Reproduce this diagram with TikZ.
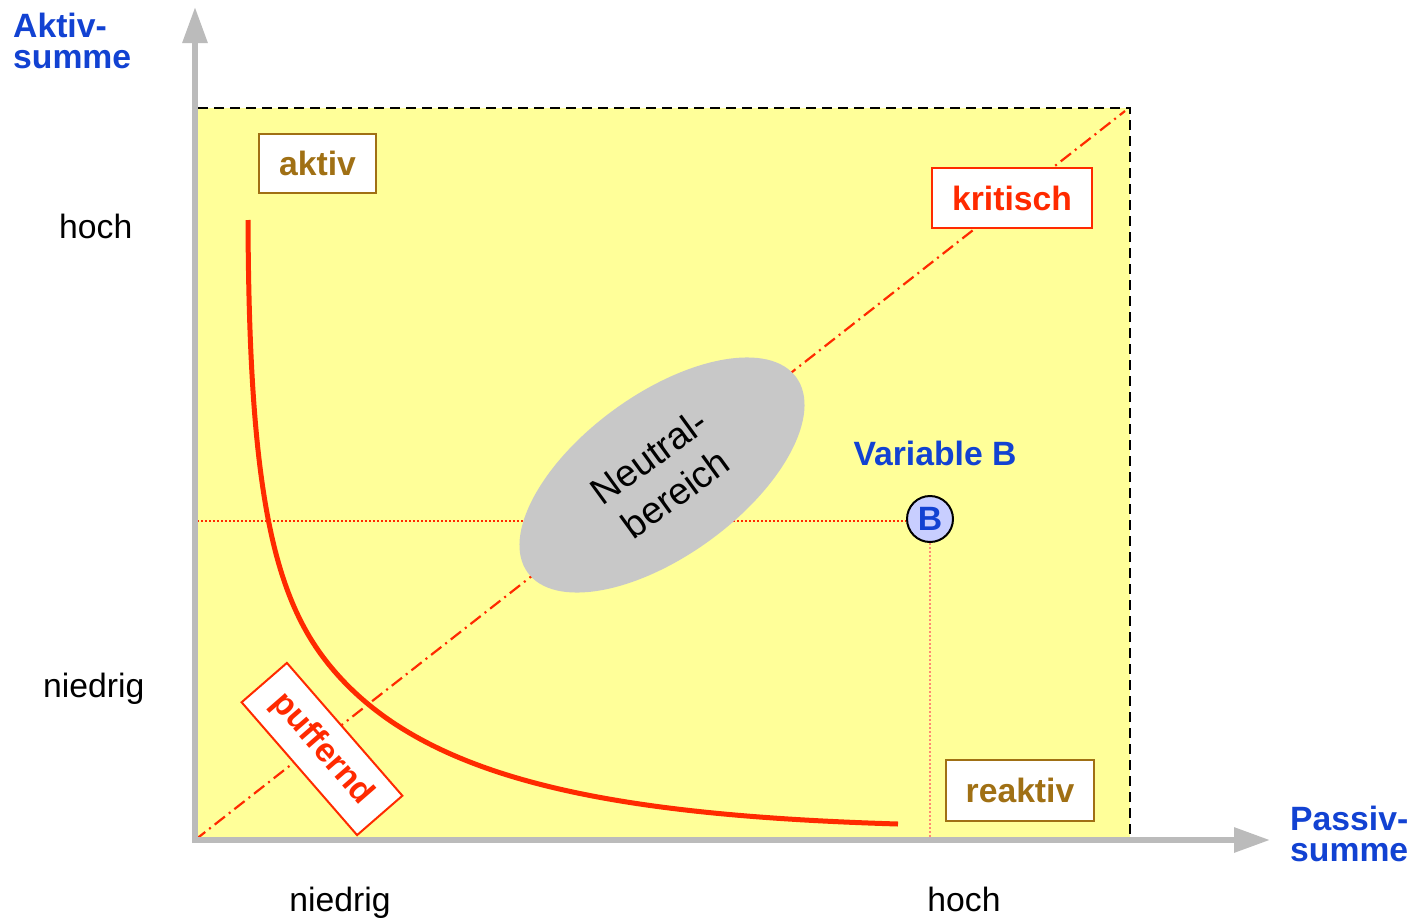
\documentclass[tikz,border=0pt]{standalone}
\usepackage{fontspec}
\setmainfont{Liberation Sans}
\usetikzlibrary{arrows.meta,shapes.geometric}
\definecolor{zyellow}{RGB}{255,255,153}
\definecolor{zgray}{RGB}{187,187,187}
\definecolor{zell}{RGB}{200,200,200}
\definecolor{zblue}{RGB}{18,66,210}
\definecolor{zbrown}{RGB}{160,112,20}
\definecolor{zred}{RGB}{255,42,0}
\definecolor{zbfill}{RGB}{200,206,255}
\newcommand\myfs{\fontsize{33.7}{31}\selectfont}
\begin{document}
\begin{tikzpicture}[x=1pt,y=-1pt,
  axisline/.style={draw=zgray, line width=6pt, -{Triangle[length=36pt,width=24pt]}},
  lab/.style={font=\myfs, inner sep=0pt, text=black},
  bluelab/.style={font=\myfs\bfseries, inner sep=0pt, text=zblue, align=left},
  tagbox/.style={draw, fill=white, line width=2pt, font=\myfs\bfseries, inner sep=0pt},
  browntag/.style={tagbox, draw=zbrown, text=zbrown},
  redtag/.style={tagbox, draw=zred, text=zred},
  borderline/.style={draw=black, line width=2pt, dash pattern=on 10pt off 6pt},
  dashdotline/.style={draw=zred, line width=2.2pt, dash pattern=on 13pt off 5pt on 2pt off 5pt},
  dotline/.style={draw=zred, line width=2pt, dash pattern=on 2pt off 2pt},
  vdotline/.style={draw=zred!55, line width=1.6pt, dash pattern=on 2pt off 2pt},
  curveline/.style={draw=zred, line width=5pt}
]
\useasboundingbox (0,0) rectangle (1416,918);
% region
\fill[zyellow] (198,108) rectangle (1130,840);
\coordinate (rtl) at (198,108);
\coordinate (rtr) at (1130,108);
\coordinate (rbr) at (1130,840);
\draw[borderline] (rtl) -- (rtr) -- (rbr);
% diagonal
\coordinate (O) at (195,840);
\coordinate (D) at (1125,111);
\draw[dashdotline] (O) -- (D);
% B point and dotted lines
\node[circle, draw=black, fill=zbfill, line width=2pt, minimum size=46pt, inner sep=0pt,
      font=\myfs\bfseries, text=zblue] (B) at (930,519) {B};
\coordinate (hl) at (193,521);
\coordinate (vb) at (930,840);
\draw[dotline] (hl) -- (B.west |- hl);
\draw[vdotline] (B) -- (vb);
% neutral region
\node[ellipse, fill=zell, minimum width=332pt, minimum height=162pt, inner sep=0pt,
      rotate=36, font=\fontsize{37.5}{45}\selectfont, align=center] (N) at (662,475) {Neutral-\\bereich};
% curve
\coordinate (c0) at (248,220);
\coordinate (c1) at (323,657);
\coordinate (c2) at (898,824);
\draw[curveline] (c0) .. controls (249,470) and (269,585) .. (c1)
                      .. controls (413,777) and (598,815) .. (c2);
% boxes
\node[browntag, minimum width=117pt, minimum height=59pt] (aktiv) at (317.5,163.5) {aktiv};
\node[redtag, minimum width=160pt, minimum height=60pt] (krit) at (1012,198) {kritisch};
\node[browntag, minimum width=148pt, minimum height=61pt] (reak) at (1020,790.5) {reaktiv};
\node[redtag, minimum width=176pt, minimum height=60pt, rotate=-49] (puff) at (322,749) {puffernd};
% axes
\coordinate (ybot) at (195,843);
\coordinate (ytip) at (195,7);
\coordinate (xleft) at (192,840);
\coordinate (xtip) at (1270,840);
\draw[axisline] (ybot) -- (ytip);
\draw[axisline] (xleft) -- (xtip);
% labels
\node[bluelab, anchor=base west] (aktivsumme) at (13,68) {Aktiv-\\summe};
\node[bluelab, anchor=base west] (passivsumme) at (1290,861) {Passiv-\\summe};
\node[lab, anchor=base west] (yhoch) at (59,238) {hoch};
\node[lab, anchor=base west] (yniedrig) at (43,697) {niedrig};
\node[lab, anchor=base] (xniedrig) at (340,911) {niedrig};
\node[lab, anchor=base] (xhoch) at (964,911) {hoch};
\node[bluelab, anchor=base] (varb) at (935,465) {Variable B};
\end{tikzpicture}
\end{document}
